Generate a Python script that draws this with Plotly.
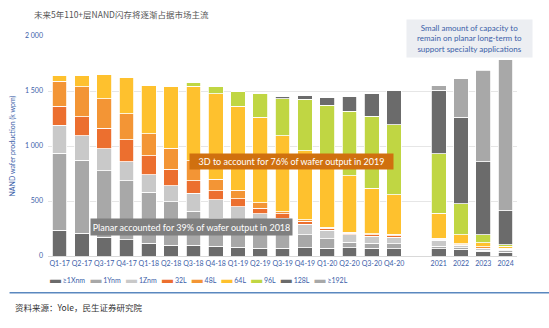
import plotly.graph_objects as go

# Periods: quarterly through 2020, then yearly forecast
quarters = ["Q1-17", "Q2-17", "Q3-17", "Q4-17", "Q1-18", "Q2-18", "Q3-18", "Q4-18",
            "Q1-19", "Q2-19", "Q3-19", "Q4-19", "Q1-20", "Q2-20", "Q3-20", "Q4-20"]
years = ["2021", "2022", "2023", "2024"]

# Wafer output by technology node (k wpm)
x1_nm = [232, 208, 172, 150, 115, 97, 97, 88, 81, 72, 72, 75, 72, 75, 72, 67, 67, 60, 42, 36]
y1_nm = [700, 663, 603, 532, 464, 397, 310, 256, 220, 205, 150, 120, 86, 50, 46, 45, 23, 15, 10, 10]
z1_nm = [257, 223, 201, 177, 159, 145, 163, 169, 148, 106, 122, 95, 75, 70, 60, 60, 52, 22, 15, 14]
l32 = [174, 172, 185, 196, 172, 151, 115, 81, 70, 51, 42, 25, 18, 12, 15, 14, 12, 5, 5, 3]
l48 = [226, 271, 267, 238, 201, 190, 181, 106, 81, 49, 18, 15, 11, 10, 10, 10, 9, 10, 10, 8]
l64 = [52, 103, 224, 334, 440, 557, 678, 777, 762, 778, 687, 627, 603, 513, 415, 362, 226, 81, 40, 17]
l96 = [0, 0, 0, 0, 0, 0, 30, 66, 130, 217, 337, 467, 504, 587, 654, 633, 542, 281, 72, 15]
l128 = [0, 0, 0, 0, 0, 0, 0, 0, 0, 0, 25, 36, 68, 136, 205, 316, 576, 789, 662, 310]
l192 = [0, 0, 0, 0, 0, 0, 0, 0, 0, 0, 0, 0, 0, 0, 0, 0, 42, 347, 832, 1371]

series_names = ["≥1Xnm", "1Ynm", "1Znm", "32L", "48L", "64L", "96L", "128L", "≥192L"]
series_values = [x1_nm, y1_nm, z1_nm, l32, l48, l64, l96, l128, l192]
series_colors = ["#6b6b6b", "#a8a8a8", "#c9c9c9", "#ec6f2f", "#f39535",
                 "#fec12e", "#c0d643", "#6b6b6b", "#a8a8a8"]

# yearly bars sit after a one-slot gap
labels = quarters + years
xpos = list(range(len(quarters))) + [len(quarters) + 1 + i for i in range(len(years))]

BLUE = "#3b5ea8"
FONT = "Lato, 'Noto Sans', sans-serif"

fig = go.Figure()
for name, vals, col in zip(series_names, series_values, series_colors):
    fig.add_trace(go.Bar(
        x=xpos, y=vals, name=name, width=0.66,
        marker=dict(color=col, line=dict(color="white", width=0.8)),
        showlegend=False,
    ))

# compact line-swatch legend
legend_text = "   ".join(
    f'<span style="color:{c};font-size:11px">▬</span> {n}'
    for n, c in zip(series_names, series_colors)
)

fig.update_layout(
    barmode="stack",
    width=549, height=328,
    margin=dict(l=43, r=32, t=35.5, b=72.3),
    paper_bgcolor="white", plot_bgcolor="white",
    font=dict(family=FONT, size=7, color=BLUE),
    xaxis=dict(
        range=[-0.52, 20.51], tickvals=xpos, ticktext=labels, tickangle=0,
        showgrid=False, zeroline=False, showline=False, ticks="",
        tickfont=dict(size=7, color=BLUE), ticklabelstandoff=2,
    ),
    yaxis=dict(
        range=[0, 2000], tickvals=[0, 500, 1000, 1500, 2000],
        ticktext=["0", "500", "1 000", "1 500", "2 000"],
        showgrid=True, gridcolor="#e6e6e6", gridwidth=1,
        zeroline=True, zerolinecolor="#d9d9d9", zerolinewidth=1,
        ticks="", tickfont=dict(size=7, color=BLUE), ticklabelstandoff=4,
        title=dict(text="NAND wafer production (k wpm)", font=dict(size=7, color=BLUE),
                   standoff=8),
    ),
    shapes=[dict(type="line", xref="paper", yref="paper",
                 x0=-0.082, x1=1.07, y0=-0.167, y1=-0.167,
                 line=dict(color="#5a88bf", width=1.6))],
    annotations=[
        dict(text="未来5年110+层NAND闪存将逐渐占据市场主流", xref="paper", yref="paper",
             x=-0.034, y=1.098, xanchor="left", yanchor="middle", showarrow=False,
             font=dict(family="'Noto Sans CJK SC'", size=8.5, color="#555555")),
        dict(text="资料来源：Yole，民生证券研究院", xref="paper", yref="paper",
             x=-0.074, y=-0.233, xanchor="left", yanchor="middle", showarrow=False,
             font=dict(family="'Noto Sans CJK SC'", size=8.5, color="#333333")),
        dict(text=legend_text, xref="paper", yref="paper",
             x=0.0, y=-0.1, xanchor="left", yanchor="middle", showarrow=False,
             font=dict(family=FONT, size=7, color=BLUE)),
        dict(text="3D to account for 76% of wafer output in 2019", xref="paper", yref="paper",
             x=0.52, y=0.43, xanchor="center", yanchor="middle", showarrow=False,
             bgcolor="#d0700f", borderpad=2, width=199, height=11,
             font=dict(family=FONT, size=9, color="white")),
        dict(text="Planar accounted for 39% of wafer output in 2018", xref="paper", yref="paper",
             x=0.307, y=0.133, xanchor="center", yanchor="middle", showarrow=False,
             bgcolor="#7f7f7f", borderpad=2, width=197, height=12,
             font=dict(family=FONT, size=9, color="white")),
        dict(text="Small amount of capacity to<br>remain on planar long-term to<br>support specialty applications",
             xref="paper", yref="paper",
             x=0.899, y=0.99, xanchor="center", yanchor="middle", showarrow=False,
             bgcolor="#eceef2", borderpad=3, width=119,
             font=dict(family=FONT, size=8, color=BLUE)),
    ],
)

fig.write_html("out.html")
